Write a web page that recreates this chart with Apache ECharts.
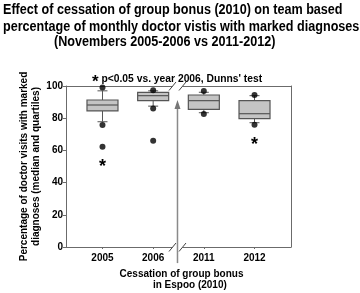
<!DOCTYPE html>
<html>
<head>
<meta charset="utf-8">
<script src="https://cdn.jsdelivr.net/npm/echarts@6/dist/echarts.min.js"></script>
<style>
  html, body { margin: 0; padding: 0; background: #fff; }
  #chart { width: 360px; height: 293px; }
</style>
</head>
<body>
<div id="chart"></div>
<script>
const years = ['2005', '2006', '2011', '2012']
const whiskerLow = [77.8, 87.5, 83.4, 77.2]
const q1 = [84.5, 90.9, 85.5, 79.7]
const median = [88.2, 94.0, 90.9, 82.8]
const q3 = [91.3, 96.0, 94.4, 90.9]
const whiskerHigh = [97.0, 97.0, 96.1, 94.0]
// extreme points [year index, value]
const outliers = [[0, 99.0], [0, 75.8], [0, 62.3], [1, 97.3], [1, 86.0], [1, 66.0], [2, 96.9], [2, 82.6], [3, 94.4], [3, 76.0]]
// significance stars [year index, value]
const stars = [[0, 52.8], [3, 66.5]]
const yTicks = [0, 20, 40, 60, 80, 100]
const breakX = 1.48

const font = "'Liberation Sans', Arial, sans-serif"
const lineColor = '#6b6b6b'

const chart = echarts.init(document.getElementById('chart'))

const boxData = years.map((y, i) => [i, whiskerLow[i], q1[i], median[i], q3[i], whiskerHigh[i]])

const titleLines = [
  { text: 'Effect of cessation of group bonus (2010) on team based', x: 3, y: 10.5 },
  { text: 'percentage of monthly doctor vistis with marked diagnoses', x: 3, y: 27 },
  { text: '(Novembers 2005-2006 vs 2011-2012)', x: 54, y: 42.5 }
]

const option = {
  animation: false,
  graphic: titleLines.map(t => ({
    type: 'text',
    x: t.x,
    y: t.y,
    scaleX: 0.9,
    style: {
      text: t.text,
      fontFamily: font, fontSize: 14, fontWeight: 'bold', fill: '#000',
      verticalAlign: 'middle'
    }
  })),
  title: {
    text: '{s|*} p<0.05 vs. year 2006, Dunns\' test',
    left: 92,
    top: 68,
    padding: 0,
    textStyle: {
      fontFamily: font, fontSize: 10.3, fontWeight: 'bold', color: '#000',
      rich: { s: { fontSize: 17, fontWeight: 'bold', fontFamily: font, padding: [6, 0, 0, 0] } }
    }
  },
  grid: { left: 66, right: 69, top: 86, bottom: 46, containLabel: false, outerBoundsMode: 'none' },
  xAxis: [
    {
      type: 'value',
      min: -0.72,
      max: 3.72,
      splitLine: { show: false },
      axisLine: { onZero: false, lineStyle: { color: lineColor } },
      axisTick: { customValues: [0, 1, 2, 3], length: 2, lineStyle: { color: lineColor } },
      axisLabel: {
        customValues: [0, 1, 2, 3],
        formatter: v => years[Math.round(v)],
        fontFamily: font, fontSize: 10, fontWeight: 'bold', color: '#000', margin: 6
      },
      name: 'Cessation of group bonus\n      in Espoo (2010)',
      nameLocation: 'middle',
      nameMoveOverlap: false,
      nameGap: 22,
      nameTextStyle: { fontFamily: font, fontSize: 10, fontWeight: 'bold', color: '#000', lineHeight: 10.5, padding: [0, 0, 0, 6] }
    },
    {
      type: 'value',
      position: 'top',
      min: -0.72,
      max: 3.72,
      splitLine: { show: false },
      axisLine: { onZero: false, lineStyle: { color: lineColor } },
      axisTick: { show: false },
      axisLabel: { show: false }
    }
  ],
  yAxis: [
    {
      type: 'value',
      min: 0,
      max: 100,
      interval: 20,
      splitLine: { show: false },
      axisLine: { show: true, onZero: false, lineStyle: { color: lineColor } },
      axisTick: { show: true, length: 3, lineStyle: { color: lineColor } },
      axisLabel: {
        customValues: yTicks,
        fontFamily: font, fontSize: 10, fontWeight: 'bold', color: '#000', margin: 3
      },
      name: 'Percentage of doctor visits with marked\ndiagnoses (median and quartiles)',
      nameLocation: 'middle',
      nameRotate: 90,
      nameMoveOverlap: false,
      nameGap: 24,
      nameTextStyle: { fontFamily: font, fontSize: 10, fontWeight: 'bold', color: '#000', lineHeight: 12 }
    },
    {
      type: 'value',
      position: 'right',
      min: 0,
      max: 100,
      splitLine: { show: false },
      axisLine: { show: true, onZero: false, lineStyle: { color: lineColor } },
      axisTick: { show: false },
      axisLabel: { show: false }
    }
  ],
  series: [
    {
      // axis break and arrow
      type: 'custom',
      data: [[breakX]],
      z: 1,
      renderItem: (params, api) => {
        const x = api.value(0)
        const top = api.coord([x, 100])
        const bot = api.coord([x, 0])
        const tip = api.coord([x, 91.3])
        const end = api.coord([x, -10])
        const cx = top[0]
        const children = []
        ;[top[1], bot[1]].forEach(y => {
          children.push({ type: 'rect', shape: { x: cx - 5, y: y - 2, width: 10, height: 4 }, style: { fill: '#fff' } })
          children.push({ type: 'line', shape: { x1: cx - 8.5, y1: y + 4.5, x2: cx - 1.5, y2: y - 4 }, style: { stroke: '#444', lineWidth: 1 } })
          children.push({ type: 'line', shape: { x1: cx + 1.5, y1: y + 4.5, x2: cx + 8.5, y2: y - 4 }, style: { stroke: '#444', lineWidth: 1 } })
        })
        children.push({ type: 'line', shape: { x1: cx, y1: end[1], x2: cx, y2: tip[1] + 6 }, style: { stroke: '#8a8a8a', lineWidth: 1.5 } })
        children.push({ type: 'polygon', shape: { points: [[cx, tip[1]], [cx - 3, tip[1] + 9], [cx + 3, tip[1] + 9]] }, style: { fill: '#777' } })
        return { type: 'group', children }
      }
    },
    {
      type: 'custom',
      data: boxData,
      z: 3,
      renderItem: (params, api) => {
        const x = api.value(0)
        const pLow = api.coord([x, api.value(1)])
        const pQ1 = api.coord([x, api.value(2)])
        const pMed = api.coord([x, api.value(3)])
        const pQ3 = api.coord([x, api.value(4)])
        const pHigh = api.coord([x, api.value(5)])
        const cx = pLow[0]
        const bw = 31
        const cw = 10
        const stroke = { stroke: '#555', lineWidth: 1 }
        return {
          type: 'group',
          children: [
            { type: 'line', shape: { x1: cx, y1: pLow[1], x2: cx, y2: pQ1[1] }, style: stroke },
            { type: 'line', shape: { x1: cx, y1: pHigh[1], x2: cx, y2: pQ3[1] }, style: stroke },
            { type: 'line', shape: { x1: cx - cw / 2, y1: pLow[1], x2: cx + cw / 2, y2: pLow[1] }, style: stroke },
            { type: 'line', shape: { x1: cx - cw / 2, y1: pHigh[1], x2: cx + cw / 2, y2: pHigh[1] }, style: stroke },
            { type: 'rect', shape: { x: cx - bw / 2, y: pQ3[1], width: bw, height: pQ1[1] - pQ3[1] }, style: { fill: '#c4c4c4', stroke: '#555', lineWidth: 1.2 } },
            { type: 'line', shape: { x1: cx - bw / 2, y1: pMed[1], x2: cx + bw / 2, y2: pMed[1] }, style: { stroke: '#555', lineWidth: 1.2 } }
          ]
        }
      }
    },
    {
      type: 'scatter',
      data: outliers,
      z: 4,
      symbol: 'circle',
      symbolSize: 6,
      itemStyle: { color: '#000' }
    },
    {
      type: 'custom',
      data: stars,
      z: 4,
      renderItem: (params, api) => {
        const p = api.coord([api.value(0), api.value(1)])
        return {
          type: 'text',
          x: p[0],
          y: p[1] + 5,
          style: { text: '*', fontSize: 18, fontWeight: 'bold', fontFamily: font, fill: '#000', align: 'center', verticalAlign: 'middle' }
        }
      }
    }
  ]
}

chart.setOption(option)

window.addEventListener('resize', () => {
  chart.resize()
})
</script>
</body>
</html>
